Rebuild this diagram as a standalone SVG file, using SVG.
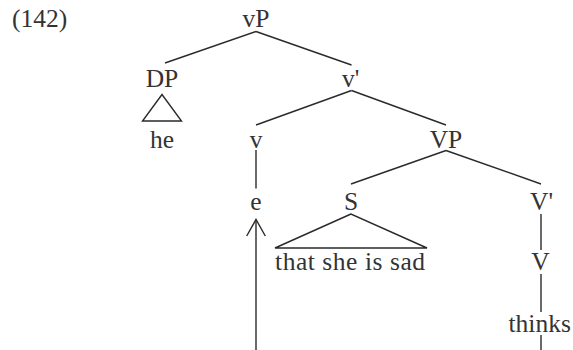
<svg xmlns="http://www.w3.org/2000/svg" width="573" height="350" viewBox="0 0 573 350">
<defs>
<style>
text{font-family:"Liberation Serif","Times New Roman",serif;font-size:25.5px;fill:#333;}
.c{text-anchor:middle;}
line,polyline,polygon{stroke:#2a2a2a;stroke-width:1.4;fill:none;stroke-linecap:butt;}
</style>
</defs>
<rect width="573" height="350" fill="#fff"/>
<text x="12" y="27">(142)</text>
<g id="vP"><text class="c" x="256" y="27">vP</text></g>
<g id="DP"><text class="c" x="162" y="87">DP</text></g>
<g id="he"><polygon points="162,94.5 142.5,121 181.5,121"/><text class="c" x="162" y="148">he</text></g>
<g id="vbar"><text x="342" y="87">v'</text></g>
<g id="v"><text class="c" x="256" y="148">v</text></g>
<g id="VP"><text class="c" x="446" y="148">VP</text></g>
<g id="e"><text class="c" x="256" y="210">e</text></g>
<g id="S"><text class="c" x="351" y="210">S</text></g>
<g id="that"><polygon points="351,214 275,248 427,248"/><text x="275" y="269.5" textLength="150" lengthAdjust="spacing">that she is sad</text></g>
<g id="Vbar"><text x="530" y="210">V'</text></g>
<g id="V"><text class="c" x="540.5" y="269.5">V</text></g>
<g id="thinks"><text x="508.5" y="331.5">thinks</text></g>
<g id="connectors">
<line x1="256" y1="31.5" x2="165" y2="63"/>
<line x1="256" y1="31.5" x2="351.5" y2="65"/>
<line x1="351.5" y1="90.5" x2="256" y2="125"/>
<line x1="351.5" y1="90.5" x2="446" y2="125"/>
<line x1="256" y1="150" x2="256" y2="188.5"/>
<line x1="446" y1="150.5" x2="351" y2="184"/>
<line x1="446" y1="150.5" x2="541" y2="184"/>
<line x1="541" y1="214" x2="541" y2="250"/>
<line x1="541" y1="274" x2="541" y2="312"/>
<line x1="541" y1="335" x2="541" y2="350"/>
<line x1="256" y1="219.5" x2="256" y2="350"/>
<polyline points="246.7,236 256,219.5 265.3,236"/>
</g>
</svg>
